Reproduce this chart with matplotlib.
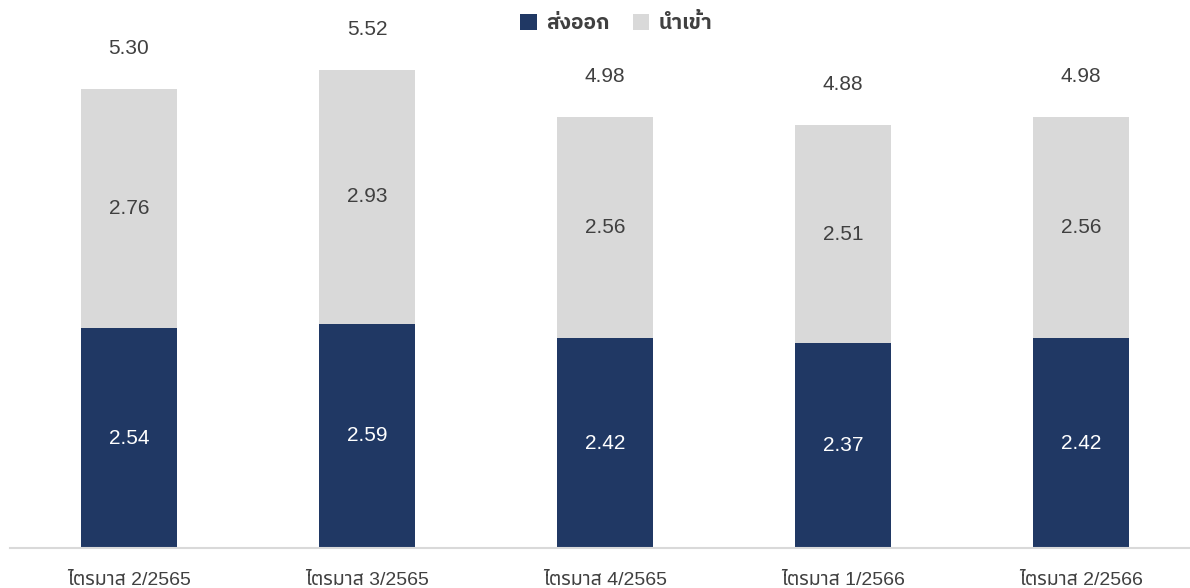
import matplotlib
matplotlib.use('Agg')
import numpy as np
import matplotlib.pyplot as plt

# data
quarters = ['ไตรมาส 2/2565', 'ไตรมาส 3/2565', 'ไตรมาส 4/2565', 'ไตรมาส 1/2566', 'ไตรมาส 2/2566']
export_vals = [2.54, 2.59, 2.42, 2.37, 2.42]
import_vals = [2.76, 2.93, 2.56, 2.51, 2.56]
total_vals = [5.30, 5.52, 4.98, 4.88, 4.98]

navy = '#203864'
grey = '#D9D9D9'
txt = '#404040'
fams = ['Liberation Sans', 'Noto Sans Thai', 'DejaVu Sans']
plt.rcParams['font.family'] = fams

fig = plt.figure(figsize=(11.9, 5.88), dpi=100)
ax = fig.add_axes([10 / 1190, 40 / 588, 1180 / 1190, 548 / 588])

x = np.arange(len(quarters))
w = 0.4
b1 = ax.bar(x, export_vals, w, color=navy, label='ส่งออก')
b2 = ax.bar(x, import_vals, w, bottom=export_vals, color=grey, label='นำเข้า')

for i in range(len(x)):
    ax.text(x[i], export_vals[i] / 2, '%.2f' % export_vals[i], ha='center', va='center',
            color='white', fontsize=15)
    ax.text(x[i], export_vals[i] + import_vals[i] / 2, '%.2f' % import_vals[i], ha='center',
            va='center', color=txt, fontsize=15)
    ax.text(x[i], total_vals[i] + 0.47, '%.2f' % total_vals[i], ha='center', va='center',
            color=txt, fontsize=15)

ax.set_xlim(-0.5, 4.458)
ax.set_ylim(0, 548 / 86.6)
ax.set_xticks(x)
ax.set_xticklabels(quarters, fontsize=14, color=txt)
ax.tick_params(axis='x', length=0, pad=17)
ax.set_yticks([])
for s in ['top', 'right', 'left']:
    ax.spines[s].set_visible(False)
ax.spines['bottom'].set_color(grey)
ax.spines['bottom'].set_linewidth(1.5)

leg = fig.legend(loc='upper center', bbox_to_anchor=(0.518, 1.01), ncol=2, frameon=False,
                 handlelength=0.8, handleheight=0.8, handletextpad=0.45, columnspacing=1.1,
                 prop={'size': 15, 'weight': 'bold',
                       'family': ['IBM Plex Sans Thai', 'Noto Sans Thai', 'DejaVu Sans']})
for t in leg.get_texts():
    t.set_color(txt)

fig.savefig('out.png', dpi=100)
